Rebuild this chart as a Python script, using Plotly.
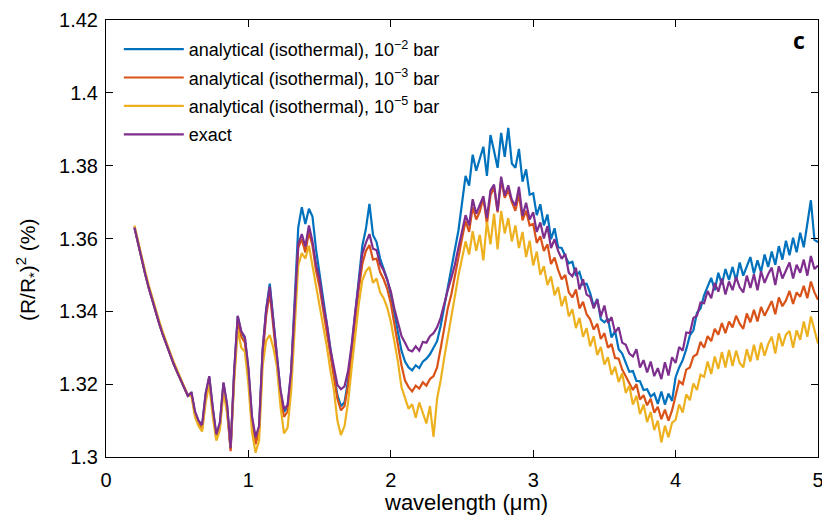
import numpy as np
import plotly.graph_objects as go

# wavelength grid (um), 0.2 to 5.0 in steps of 0.025
wavelength = np.round(np.arange(0.2, 5.0001, 0.025), 3)

# transit depth (R/R*)^2 in %, one value per wavelength
exact = [
    1.3630, 1.3585, 1.3543, 1.3503, 1.3465, 1.3430, 1.3396, 1.3365,
    1.3335, 1.3307, 1.3281, 1.3256, 1.3233, 1.3212, 1.3190, 1.3168,
    1.3178, 1.3125, 1.3100, 1.3088, 1.3175, 1.3222, 1.3135, 1.3062,
    1.3095, 1.3205, 1.3145, 1.3025, 1.3235, 1.3388, 1.3345, 1.3330,
    1.3245, 1.3112, 1.3055, 1.3085, 1.3295, 1.3405, 1.3468, 1.3372,
    1.3290, 1.3185, 1.3132, 1.3142, 1.3235, 1.3405, 1.3585, 1.3612,
    1.3578, 1.3636, 1.3592, 1.3528, 1.3488, 1.3420, 1.3368, 1.3298,
    1.3250, 1.3198, 1.3186, 1.3194, 1.3236, 1.3308, 1.3398, 1.3478,
    1.3558, 1.3588, 1.3612, 1.3572, 1.3568, 1.3530, 1.3512, 1.3486,
    1.3455, 1.3408, 1.3372, 1.3332, 1.3314, 1.3294, 1.3290, 1.3304,
    1.3292, 1.3316, 1.3314, 1.3332, 1.3340, 1.3356, 1.3382, 1.3422,
    1.3458, 1.3492, 1.3528, 1.3575, 1.3618, 1.3664, 1.3636, 1.3708,
    1.3668, 1.3692, 1.3716, 1.3656, 1.3732, 1.3748, 1.3676, 1.3770,
    1.3718, 1.3746, 1.3706, 1.3690, 1.3742, 1.3662, 1.3698, 1.3652,
    1.3672, 1.3618, 1.3644, 1.3600, 1.3634, 1.3574, 1.3598, 1.3566,
    1.3544, 1.3558, 1.3506, 1.3496, 1.3520, 1.3460, 1.3488, 1.3446,
    1.3440, 1.3408, 1.3432, 1.3386, 1.3416, 1.3368, 1.3384, 1.3342,
    1.3356, 1.3314, 1.3308, 1.3284, 1.3276, 1.3296, 1.3246, 1.3266,
    1.3232, 1.3262, 1.3222, 1.3244, 1.3214, 1.3260, 1.3224, 1.3274,
    1.3258, 1.3302, 1.3292, 1.3342, 1.3340, 1.3382, 1.3388, 1.3424,
    1.3422, 1.3456, 1.3436, 1.3478, 1.3454, 1.3490, 1.3446, 1.3482,
    1.3458, 1.3494, 1.3466, 1.3452, 1.3498, 1.3464, 1.3502, 1.3458,
    1.3510, 1.3478, 1.3502, 1.3520, 1.3472, 1.3524, 1.3490, 1.3512,
    1.3534, 1.3490, 1.3528, 1.3506, 1.3542, 1.3498, 1.3552, 1.3516,
    1.3526,
]

iso_1e2 = [
    1.3630, 1.3585, 1.3543, 1.3503, 1.3465, 1.3430, 1.3396, 1.3365,
    1.3335, 1.3307, 1.3281, 1.3256, 1.3233, 1.3212, 1.3190, 1.3168,
    1.3176, 1.3122, 1.3098, 1.3085, 1.3172, 1.3220, 1.3132, 1.3058,
    1.3092, 1.3202, 1.3142, 1.3022, 1.3232, 1.3386, 1.3342, 1.3326,
    1.3240, 1.3106, 1.3048, 1.3080, 1.3292, 1.3406, 1.3476, 1.3370,
    1.3286, 1.3180, 1.3124, 1.3136, 1.3232, 1.3420, 1.3630, 1.3686,
    1.3640, 1.3682, 1.3660, 1.3570, 1.3502, 1.3428, 1.3358, 1.3290,
    1.3232, 1.3170, 1.3140, 1.3150, 1.3210, 1.3300, 1.3398, 1.3490,
    1.3580, 1.3626, 1.3695, 1.3610, 1.3590, 1.3545, 1.3515, 1.3488,
    1.3445, 1.3392, 1.3338, 1.3292, 1.3262, 1.3246, 1.3238, 1.3252,
    1.3244, 1.3262, 1.3270, 1.3282, 1.3300, 1.3318, 1.3360, 1.3410,
    1.3470, 1.3512, 1.3570, 1.3622, 1.3700, 1.3772, 1.3745, 1.3830,
    1.3786, 1.3816, 1.3852, 1.3772, 1.3884, 1.3840, 1.3794, 1.3890,
    1.3824, 1.3904, 1.3806, 1.3794, 1.3846, 1.3756, 1.3790, 1.3720,
    1.3724, 1.3664, 1.3694, 1.3636, 1.3666, 1.3598, 1.3628, 1.3576,
    1.3574, 1.3552, 1.3532, 1.3536, 1.3498, 1.3508, 1.3474, 1.3476,
    1.3450, 1.3414, 1.3434, 1.3378, 1.3370, 1.3380, 1.3328, 1.3346,
    1.3296, 1.3284, 1.3258, 1.3234, 1.3236, 1.3209, 1.3208, 1.3184,
    1.3186, 1.3166, 1.3174, 1.3146, 1.3180, 1.3144, 1.3174, 1.3154,
    1.3219, 1.3246, 1.3266, 1.3296, 1.3334, 1.3348, 1.3396, 1.3408,
    1.3444, 1.3466, 1.3492, 1.3458, 1.3506, 1.3474, 1.3516, 1.3486,
    1.3522, 1.3484, 1.3534, 1.3498, 1.3524, 1.3549, 1.3504, 1.3540,
    1.3508, 1.3556, 1.3522, 1.3564, 1.3528, 1.3579, 1.3542, 1.3594,
    1.3554, 1.3602, 1.3562, 1.3616, 1.3576, 1.3644, 1.3705, 1.3596,
    1.3590,
]

iso_1e3 = [
    1.3630, 1.3585, 1.3543, 1.3503, 1.3465, 1.3430, 1.3396, 1.3365,
    1.3335, 1.3307, 1.3281, 1.3256, 1.3233, 1.3212, 1.3190, 1.3168,
    1.3172, 1.3116, 1.3090, 1.3076, 1.3165, 1.3212, 1.3124, 1.3050,
    1.3084, 1.3195, 1.3134, 1.3016, 1.3222, 1.3374, 1.3330, 1.3315,
    1.3230, 1.3095, 1.3035, 1.3070, 1.3280, 1.3388, 1.3452, 1.3356,
    1.3275, 1.3168, 1.3110, 1.3125, 1.3222, 1.3395, 1.3575, 1.3598,
    1.3562, 1.3618, 1.3580, 1.3512, 1.3466, 1.3405, 1.3346, 1.3282,
    1.3224, 1.3160, 1.3128, 1.3140, 1.3196, 1.3284, 1.3376, 1.3460,
    1.3530, 1.3566, 1.3582, 1.3542, 1.3545, 1.3508, 1.3488, 1.3462,
    1.3422, 1.3368, 1.3310, 1.3252, 1.3210, 1.3192, 1.3180, 1.3196,
    1.3188, 1.3205, 1.3196, 1.3214, 1.3222, 1.3246, 1.3298, 1.3352,
    1.3408, 1.3446, 1.3502, 1.3548, 1.3600, 1.3648, 1.3618, 1.3686,
    1.3652, 1.3674, 1.3712, 1.3640, 1.3718, 1.3742, 1.3672, 1.3760,
    1.3712, 1.3732, 1.3700, 1.3676, 1.3722, 1.3650, 1.3676, 1.3636,
    1.3640, 1.3588, 1.3606, 1.3566, 1.3584, 1.3530, 1.3548, 1.3514,
    1.3488, 1.3500, 1.3452, 1.3438, 1.3460, 1.3408, 1.3426, 1.3392,
    1.3378, 1.3350, 1.3366, 1.3324, 1.3340, 1.3300, 1.3310, 1.3272,
    1.3270, 1.3240, 1.3222, 1.3204, 1.3184, 1.3200, 1.3158, 1.3170,
    1.3142, 1.3160, 1.3122, 1.3138, 1.3104, 1.3130, 1.3100, 1.3128,
    1.3170, 1.3208, 1.3200, 1.3240, 1.3246, 1.3276, 1.3282, 1.3316,
    1.3300, 1.3332, 1.3318, 1.3352, 1.3336, 1.3368, 1.3340, 1.3372,
    1.3356, 1.3388, 1.3366, 1.3352, 1.3394, 1.3370, 1.3404, 1.3372,
    1.3412, 1.3388, 1.3408, 1.3428, 1.3392, 1.3438, 1.3414, 1.3430,
    1.3456, 1.3420, 1.3452, 1.3440, 1.3470, 1.3436, 1.3482, 1.3452,
    1.3432,
]

iso_1e5 = [
    1.3636, 1.3592, 1.3550, 1.3510, 1.3472, 1.3437, 1.3403, 1.3372,
    1.3342, 1.3313, 1.3287, 1.3262, 1.3238, 1.3216, 1.3193, 1.3170,
    1.3168, 1.3110, 1.3085, 1.3070, 1.3150, 1.3200, 1.3110, 1.3045,
    1.3075, 1.3180, 1.3120, 1.3030, 1.3205, 1.3350, 1.3300, 1.3290,
    1.3200, 1.3070, 1.3012, 1.3045, 1.3250, 1.3320, 1.3335, 1.3300,
    1.3250, 1.3140, 1.3065, 1.3080, 1.3180, 1.3340, 1.3525, 1.3560,
    1.3545, 1.3580, 1.3525, 1.3470, 1.3425, 1.3365, 1.3305, 1.3240,
    1.3185, 1.3100, 1.3060, 1.3085, 1.3150, 1.3245, 1.3335, 1.3420,
    1.3485, 1.3510, 1.3522, 1.3478, 1.3490, 1.3452, 1.3436, 1.3410,
    1.3372, 1.3315, 1.3262, 1.3192, 1.3160, 1.3132, 1.3145, 1.3108,
    1.3150, 1.3118, 1.3092, 1.3140, 1.3055, 1.3160, 1.3210, 1.3272,
    1.3330, 1.3378, 1.3440, 1.3498, 1.3545, 1.3592, 1.3556, 1.3620,
    1.3566, 1.3610, 1.3540, 1.3646, 1.3584, 1.3668, 1.3570, 1.3676,
    1.3614, 1.3656, 1.3592, 1.3636, 1.3574, 1.3618, 1.3549, 1.3594,
    1.3526, 1.3564, 1.3500, 1.3524, 1.3472, 1.3496, 1.3444, 1.3466,
    1.3414, 1.3442, 1.3386, 1.3406, 1.3354, 1.3382, 1.3330, 1.3354,
    1.3304, 1.3332, 1.3280, 1.3302, 1.3254, 1.3274, 1.3226, 1.3248,
    1.3206, 1.3230, 1.3176, 1.3196, 1.3144, 1.3168, 1.3118, 1.3144,
    1.3096, 1.3124, 1.3074, 1.3100, 1.3040, 1.3086, 1.3054, 1.3094,
    1.3102, 1.3144, 1.3122, 1.3172, 1.3156, 1.3202, 1.3184, 1.3226,
    1.3220, 1.3262, 1.3228, 1.3276, 1.3242, 1.3288, 1.3246, 1.3294,
    1.3250, 1.3292, 1.3258, 1.3246, 1.3296, 1.3262, 1.3308, 1.3266,
    1.3314, 1.3278, 1.3310, 1.3330, 1.3284, 1.3340, 1.3304, 1.3336,
    1.3346, 1.3300, 1.3348, 1.3322, 1.3372, 1.3330, 1.3386, 1.3350,
    1.3312,
]

# MATLAB-style default line colours
COLORS = {
    "blue": "#0072BD",
    "orange": "#D95319",
    "yellow": "#EDB120",
    "purple": "#7E2F8E",
}

FONT = "Liberation Sans, Arial, Helvetica, sans-serif"

series = [
    ("analytical (isothermal), 10<sup>\u22122</sup> bar", iso_1e2, COLORS["blue"]),
    ("analytical (isothermal), 10<sup>\u22123</sup> bar", iso_1e3, COLORS["orange"]),
    ("analytical (isothermal), 10<sup>\u22125</sup> bar", iso_1e5, COLORS["yellow"]),
    ("exact", exact, COLORS["purple"]),
]

fig = go.Figure()
for i, (name, values, color) in enumerate(series):
    fig.add_trace(go.Scatter(
        x=wavelength,
        y=values,
        mode="lines",
        name=name,
        legendgroup=f"g{i}",
        line=dict(color=color, width=2.2),
    ))

axis_style = dict(
    showline=True,
    linecolor="black",
    linewidth=1,
    mirror="ticks",
    ticks="inside",
    ticklen=7,
    tickcolor="black",
    showgrid=False,
    zeroline=False,
    automargin=False,
    tickfont=dict(size=20, color="black"),
)

fig.update_xaxes(range=[0, 5], tickvals=[0, 1, 2, 3, 4, 5],
                 ticklabelstandoff=5, **axis_style)
fig.update_yaxes(
    range=[1.3, 1.42], tickvals=[1.3, 1.32, 1.34, 1.36, 1.38, 1.4, 1.42],
    ticktext=["1.3", "1.32", "1.34", "1.36", "1.38", "1.4", "1.42"],
    ticklabelstandoff=3, **axis_style,
)

# axis titles placed as annotations for exact positioning
fig.add_annotation(
    text="wavelength (\u03bcm)", xref="paper", yref="paper", x=0.505, y=-0.104,
    xanchor="center", yanchor="middle", showarrow=False,
    font=dict(size=22, color="black"),
)
fig.add_annotation(
    text="(R/R<sub>*</sub>)<sup>2</sup> (%)", xref="paper", yref="paper",
    x=-0.111, y=0.43, textangle=-90,
    xanchor="center", yanchor="middle", showarrow=False,
    font=dict(size=21, color="black"),
)

# panel label
fig.add_annotation(
    text="<b>c</b>", xref="paper", yref="paper", x=0.985, y=0.955,
    xanchor="right", yanchor="middle", showarrow=False,
    font=dict(family="Open Sans, sans-serif", size=23, color="black"),
)

# the page body adds an 8px offset, so the figure is 8px smaller than the window
fig.update_layout(
    width=822,
    height=509,
    margin=dict(l=98, r=12, t=12, b=60, autoexpand=False),
    plot_bgcolor="white",
    paper_bgcolor="white",
    font=dict(family=FONT, size=18, color="black"),
    showlegend=True,
    legend=dict(
        x=0.018, y=0.975, xanchor="left", yanchor="top",
        bgcolor="rgba(0,0,0,0)",
        font=dict(size=18, color="black"),
        tracegroupgap=2,
        traceorder="grouped",
        itemwidth=60,
    ),
)

fig.write_html("out.html")
